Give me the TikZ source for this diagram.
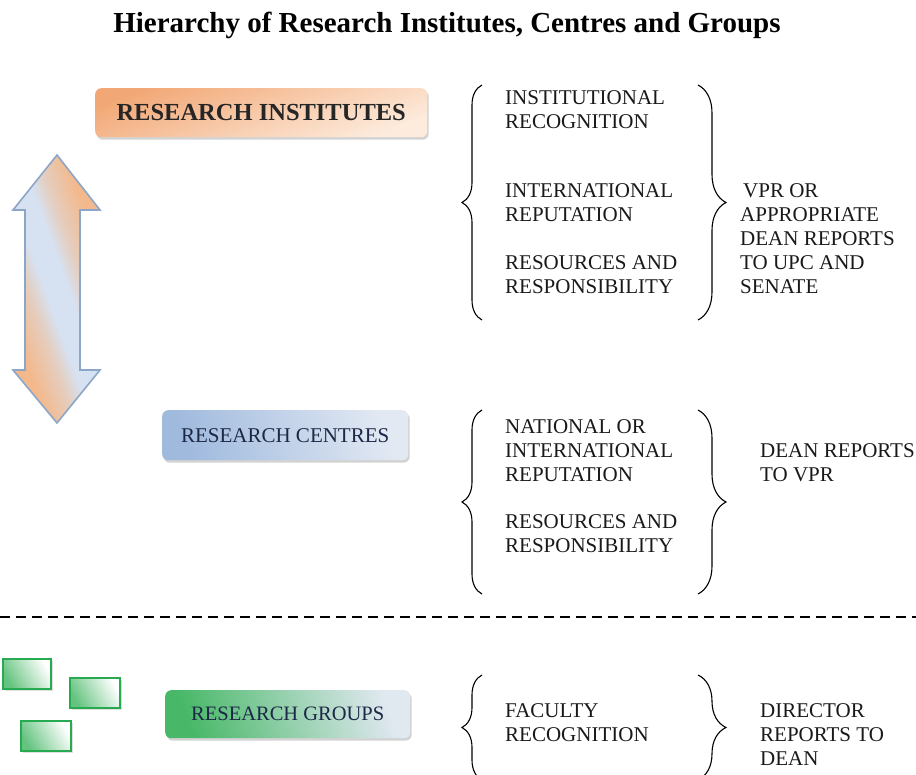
\documentclass[tikz,border=0pt]{standalone}
\usepackage{fontspec}
\setmainfont{Liberation Serif}
\usetikzlibrary{shadows,decorations.pathreplacing}
\definecolor{instA}{RGB}{242,168,118}
\definecolor{instB}{RGB}{253,236,222}
\definecolor{cenA}{RGB}{160,186,222}
\definecolor{cenB}{RGB}{226,233,243}
\definecolor{grpA}{RGB}{72,184,104}
\definecolor{grpB}{RGB}{224,232,240}
\definecolor{navy}{RGB}{28,40,70}
\definecolor{arrowline}{RGB}{140,166,200}
\definecolor{arrowblue}{RGB}{214,226,242}
\definecolor{arroworange}{RGB}{243,185,140}
\definecolor{boxgreen}{RGB}{40,170,80}
\pgfdeclarehorizontalshading{arrowshade}{100bp}{color(0bp)=(arroworange); color(30bp)=(arroworange);
  color(40bp)=(arroworange!50!arrowblue); color(46bp)=(arrowblue); color(54bp)=(arrowblue);
  color(60bp)=(arroworange!50!arrowblue); color(70bp)=(arroworange); color(100bp)=(arroworange)}
\tikzset{
  levelbox/.style={rounded corners=6pt, inner sep=0pt, anchor=north west,
    drop shadow={shadow xshift=1.5pt, shadow yshift=-2.5pt, opacity=0.35}},
  listtxt/.style={anchor=north west, inner sep=0pt, align=left,
    font=\fontsize{21}{24}\selectfont, text=black!90},
  lbrace/.style={decorate, decoration={brace, amplitude=20pt}, line width=1.1pt},
  rbrace/.style={decorate, decoration={brace, amplitude=28pt}, line width=1.1pt},
  smallbox/.style={draw=boxgreen, line width=2pt,
    left color=grpA!85, right color=white, shading angle=120,
    drop shadow={shadow xshift=1.5pt, shadow yshift=-2pt, opacity=0.25}}
}
\begin{document}
\begin{tikzpicture}[x=1pt,y=1pt]
\useasboundingbox (0,0) rectangle (916,-775);

% title
\node[anchor=base, inner sep=0pt, font=\fontsize{29}{32}\bfseries\selectfont] (title) at (447,-33)
  {Hierarchy of Research Institutes, Centres and Groups};

% level boxes
\node[levelbox, minimum width=332pt, minimum height=49pt, top color=instA, bottom color=instB,
  shading angle=20, font=\fontsize{24.5}{26}\bfseries\selectfont, text=black!85] (inst) at (95,-88)
  {RESEARCH INSTITUTES};
\node[levelbox, minimum width=246pt, minimum height=50pt, left color=cenA, right color=cenB,
  shading angle=110, font=\fontsize{21}{24}\selectfont, text=navy] (cen) at (162,-410)
  {RESEARCH CENTRES};
\node[levelbox, minimum width=245pt, minimum height=48pt, left color=grpA, right color=grpB,
  shading angle=110, font=\fontsize{20.5}{24}\selectfont, text=navy] (grp) at (165,-690)
  {RESEARCH GROUPS};

% double arrow
\path[draw=arrowline, line width=1.6pt, line join=miter, shading=arrowshade, shading angle=20]
  (57,-155) -- (100,-210) -- (80,-210) -- (80,-370) -- (100,-370) -- (57,-423)
  -- (13,-370) -- (25,-370) -- (25,-210) -- (13,-210) -- cycle;

% small green boxes
\node[smallbox, minimum width=48pt, minimum height=30pt, inner sep=0pt, anchor=north west] (g1) at (2,-658) {};
\node[smallbox, minimum width=50pt, minimum height=30pt, inner sep=0pt, anchor=north west] (g2) at (69,-677) {};
\node[smallbox, minimum width=50pt, minimum height=30pt, inner sep=0pt, anchor=north west] (g3) at (20,-720) {};

% dashed separator
\coordinate (dl) at (0,-617);
\coordinate (dr) at (916,-617);
\draw[line width=2.4pt, dash pattern=on 10pt off 6pt] (dl) -- (dr);

% braces: institutes
\coordinate (ib1) at (482,-320); \coordinate (ib2) at (482,-85);
\coordinate (ib3) at (698,-85);  \coordinate (ib4) at (698,-320);
\draw[lbrace] (ib1) -- (ib2);
\draw[rbrace] (ib3) -- (ib4);
% braces: centres
\coordinate (cb1) at (482,-594); \coordinate (cb2) at (482,-410);
\coordinate (cb3) at (698,-410); \coordinate (cb4) at (698,-594);
\draw[lbrace] (cb1) -- (cb2);
\draw[rbrace] (cb3) -- (cb4);
% braces: groups
\coordinate (gb1) at (482,-780); \coordinate (gb2) at (482,-675);
\coordinate (gb3) at (698,-675); \coordinate (gb4) at (698,-780);
\draw[lbrace] (gb1) -- (gb2);
\draw[rbrace] (gb3) -- (gb4);

% texts: institutes
\node[listtxt] (i1) at (505,-90) {INSTITUTIONAL\\RECOGNITION};
\node[listtxt] (i2) at (505,-183.5) {INTERNATIONAL\\REPUTATION};
\node[listtxt] (i3) at (505,-255.5) {RESOURCES AND\\RESPONSIBILITY};
\node[listtxt] (i4) at (740,-183.5) {\hspace*{3pt}VPR OR\\APPROPRIATE\\DEAN REPORTS\\TO UPC AND\\SENATE};
% texts: centres
\node[listtxt] (c1) at (505,-419.5) {NATIONAL OR\\INTERNATIONAL\\REPUTATION};
\node[listtxt] (c2) at (505,-514.5) {RESOURCES AND\\RESPONSIBILITY};
\node[listtxt] (c3) at (760,-443.5) {DEAN REPORTS\\TO VPR};
% texts: groups
\node[listtxt] (r1) at (505,-703.5) {FACULTY\\RECOGNITION};
\node[listtxt] (r2) at (760,-703.5) {DIRECTOR\\REPORTS TO\\DEAN};
\end{tikzpicture}
\end{document}
